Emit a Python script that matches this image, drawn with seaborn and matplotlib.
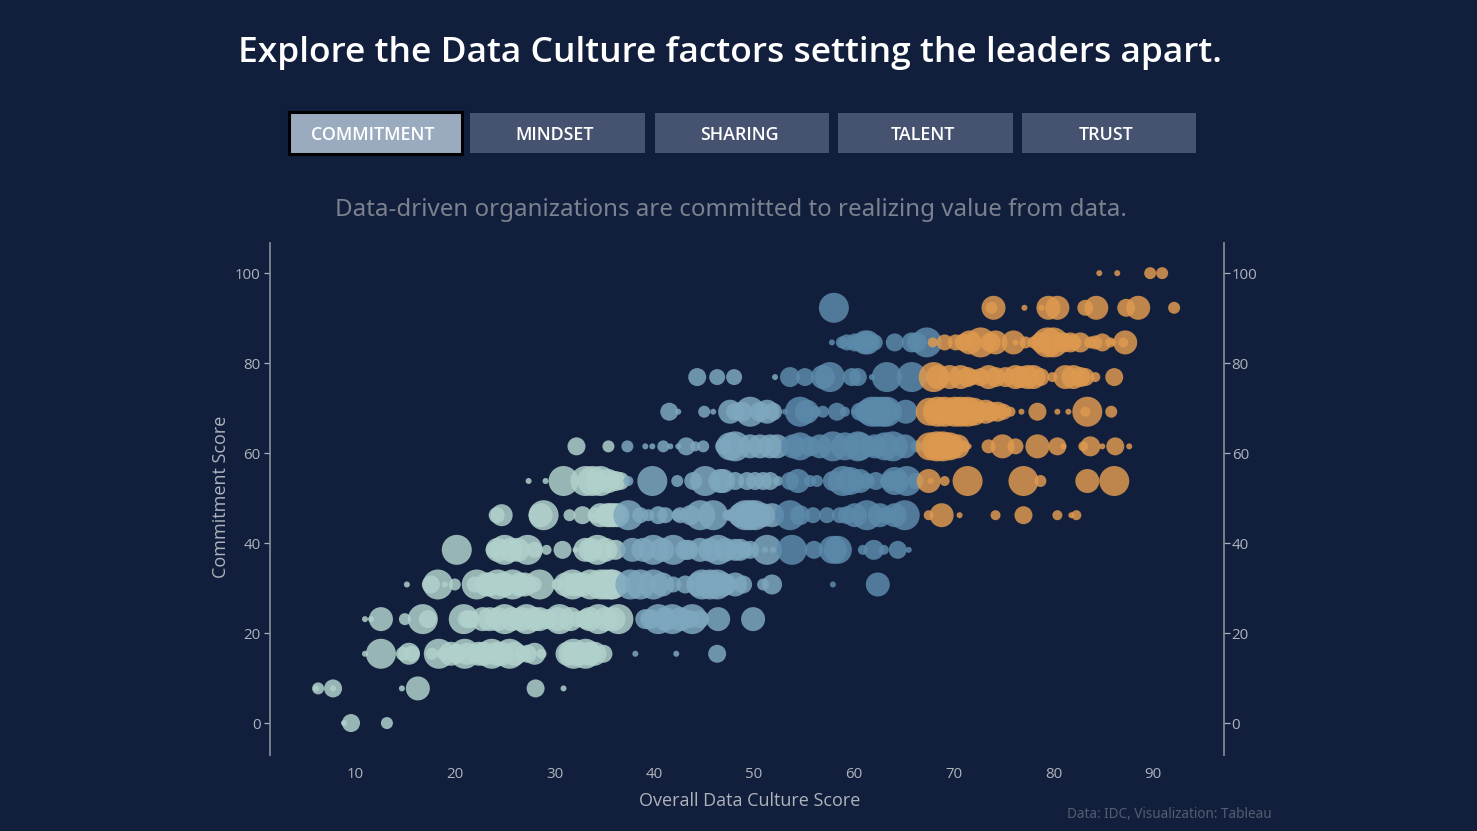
import numpy as np
import pandas as pd
import seaborn as sns
import matplotlib.pyplot as plt
from matplotlib.patches import Rectangle

BG = "#121f3c"

# commitment score is one of 14 levels, each row holds overall score + respondent weight
levels = [0, 7.7, 15.4, 23.1, 30.8, 38.5, 46.2, 53.8, 61.5, 69.2, 76.9, 84.6, 92.3, 100]

row_00_x = [8.9, 9.6, 13.2]
row_00_n = [9, 81, 36]
row_08_x = [6.3, 6.1, 7.8, 7.8, 14.7, 16.3, 28.1, 30.9]
row_08_n = [36, 9, 81, 9, 9, 144, 81, 9]
row_15_x = [11.0, 12.6, 14.8, 15.4, 17.7, 18.4, 18.8, 21.0, 21.2, 23.7, 24.7, 25.5, 26.8, 28.0, 28.7, 31.9, 32.8, 33.1, 34.9, 38.1, 42.2, 46.3,
            15.7, 19.6, 20.2, 22.4, 22.9, 24.2, 26.0, 27.3, 31.3, 32.0, 33.5, 34.0]
row_15_n = [9, 225, 49, 121, 36, 225, 36, 225, 121, 225, 144, 225, 64, 121, 25, 225, 121, 225, 81, 9, 9, 81,
            64, 144, 100, 144, 144, 144, 144, 81, 144, 144, 144, 144]
row_23_x = [11.0, 11.6, 12.6, 15.0, 16.8, 17.3, 20.9, 21.2, 22.8, 23.8, 25.0, 26.2, 27.2, 28.5, 30.3, 30.5, 32.3, 33.5, 34.4, 35.9, 36.4, 39.6, 40.4, 41.8, 43.6, 43.8, 46.4, 49.9,
            21.5, 23.5, 24.3, 25.7, 26.7, 28.0, 29.3, 31.6, 33.1, 35.1, 39.1, 41.1, 42.6, 44.6]
row_23_n = [9, 9, 144, 36, 225, 81, 225, 81, 144, 64, 225, 100, 225, 144, 144, 225, 64, 144, 225, 144, 225, 100, 225, 225, 81, 225, 144, 144,
            81, 144, 144, 144, 144, 144, 100, 144, 100, 144, 100, 144, 144, 81]
row_31_x = [15.2, 18.3, 17.6, 19.0, 20.0, 22.2, 22.0, 23.2, 24.3, 25.8, 24.8, 28.5, 27.9, 30.3, 31.8, 32.8, 34.6, 35.6, 36.6, 37.6, 39.9, 41.9, 45.6, 46.3, 46.9, 47.3, 48.9, 50.9, 51.8, 57.9, 62.4,
            23.5, 25.0, 26.5, 27.0, 31.1, 32.1, 33.6, 35.1, 35.8, 38.6, 40.8, 43.1, 44.4, 44.8, 48.1]
row_31_n = [9, 225, 81, 9, 36, 225, 64, 144, 225, 225, 144, 225, 64, 36, 225, 144, 225, 225, 100, 225, 225, 64, 225, 225, 144, 100, 81, 36, 100, 9, 144,
            144, 144, 144, 144, 144, 144, 225, 225, 225, 225, 144, 81, 144, 225, 144]
row_38_x = [20.2, 23.9, 25.0, 26.3, 27.3, 29.2, 30.8, 32.1, 33.6, 34.3, 36.1, 37.8, 39.9, 41.9, 43.4, 46.4, 48.6, 49.6, 51.3, 51.1, 51.9, 53.8, 56.0, 57.9, 58.4, 60.9, 62.0, 63.0, 64.4, 65.5,
            24.3, 25.6, 28.0, 33.1, 35.1, 38.9, 40.8, 43.1, 44.6, 45.6, 47.1, 48.1, 49.1]
row_38_n = [225, 64, 225, 144, 225, 25, 81, 9, 144, 225, 100, 144, 225, 225, 100, 225, 121, 81, 225, 9, 9, 225, 81, 196, 196, 25, 100, 25, 81, 9,
            144, 144, 64, 144, 144, 144, 144, 100, 144, 144, 144, 121, 64]
row_46_x = [24.2, 24.7, 28.6, 28.9, 31.5, 32.8, 33.8, 35.1, 35.3, 35.9, 36.3, 37.4, 39.4, 40.4, 42.3, 44.6, 45.9, 47.3, 48.6, 49.6, 50.9, 53.6, 55.9, 57.3, 59.3, 61.3, 63.0, 65.1, 67.5, 68.8, 70.6, 74.2, 77.0, 80.4, 81.8, 82.3,
            34.1, 34.6, 35.6, 38.6, 41.1, 42.6, 43.6, 47.6, 49.1, 50.1, 51.8, 54.6, 58.6, 60.1, 62.6, 63.6, 64.1]
row_46_n = [64, 121, 144, 225, 36, 81, 9, 100, 144, 144, 144, 225, 36, 81, 36, 225, 225, 25, 144, 225, 144, 225, 64, 64, 81, 225, 64, 225, 25, 144, 9, 25, 81, 25, 9, 25,
            64, 144, 144, 64, 64, 64, 100, 36, 225, 225, 144, 100, 64, 144, 144, 64, 144]
row_54_x = [27.4, 29.1, 30.9, 33.8, 34.6, 35.4, 36.6, 37.4, 39.8, 42.3, 43.9, 45.1, 46.9, 49.3, 50.9, 52.4, 54.4, 56.3, 57.9, 58.9, 61.3, 63.1, 64.3, 65.3, 67.5, 67.7, 69.1, 71.4, 77.0, 78.7, 83.4, 86.1,
            33.1, 36.1, 46.6, 48.1, 50.1, 51.6, 53.6, 55.6, 60.6, 59.6, 62.2, 66.2, 64.1, 63.7]
row_54_n = [9, 9, 225, 225, 225, 144, 81, 25, 225, 36, 81, 225, 144, 81, 81, 25, 144, 36, 100, 225, 64, 25, 100, 225, 144, 9, 25, 225, 225, 36, 144, 225,
            225, 100, 144, 81, 81, 81, 81, 36, 144, 196, 81, 64, 196, 100]
row_62_x = [32.2, 35.4, 37.3, 39.1, 39.8, 40.9, 41.6, 42.4, 43.2, 44.1, 44.9, 46.9, 48.1, 50.6, 52.3, 53.9, 55.6, 57.9, 60.4, 61.6, 63.9, 66.3, 68.3, 67.6, 69.6, 71.0, 71.5, 73.5, 74.9, 76.2, 78.4, 80.4, 81.0, 83.0, 83.7, 84.9, 86.2, 87.6,
            47.6, 49.6, 51.6, 54.6, 56.6, 59.1, 60.6, 62.1, 63.1, 65.1, 68.9, 69.6, 70.4]
row_62_n = [81, 36, 36, 9, 9, 36, 9, 9, 81, 25, 36, 64, 225, 144, 144, 144, 100, 225, 225, 100, 225, 36, 225, 196, 144, 36, 9, 49, 144, 64, 144, 81, 9, 25, 100, 9, 81, 9,
            196, 144, 144, 196, 144, 196, 196, 144, 196, 144, 225, 196, 144]
row_69_x = [41.5, 42.4, 45.0, 45.9, 48.1, 48.8, 49.6, 51.3, 51.9, 53.1, 54.6, 55.3, 56.9, 58.3, 59.1, 60.1, 61.3, 61.8, 62.3, 62.9, 63.3, 65.2, 68.0, 69.4, 70.7, 71.4, 72.5, 74.4, 75.7, 76.8, 78.4, 80.4, 81.5, 83.4, 83.2, 85.8,
            47.6, 50.6, 56.1, 60.6, 67.6, 68.4, 69.1, 70.1, 72.0, 73.2, 73.7, 75.0]
row_69_n = [81, 9, 36, 9, 81, 100, 225, 144, 81, 9, 225, 144, 36, 81, 25, 9, 144, 225, 225, 225, 225, 144, 81, 144, 225, 225, 100, 100, 25, 9, 81, 9, 9, 225, 25, 36,
            144, 100, 36, 81, 196, 225, 225, 225, 196, 144, 100, 64]
row_77_x = [44.3, 46.3, 48.0, 52.1, 53.6, 55.1, 56.9, 57.6, 59.8, 60.4, 61.8, 63.3, 65.8, 68.0, 68.4, 70.7, 71.9, 73.5, 75.2, 77.4, 78.0, 79.9, 82.0, 82.7, 84.2, 86.1,
            69.6, 71.4, 72.7, 74.2, 76.2, 76.7, 78.7, 81.2, 83.2]
row_77_n = [81, 64, 64, 9, 100, 81, 144, 225, 81, 81, 9, 225, 225, 225, 144, 144, 64, 144, 100, 144, 144, 25, 144, 100, 25, 81,
            144, 100, 81, 100, 144, 121, 81, 144, 81]
row_85_x = [57.8, 58.8, 59.3, 60.6, 61.4, 62.1, 64.1, 66.3, 67.3, 67.9, 69.1, 71.0, 72.7, 74.2, 76.0, 76.2, 78.0, 79.4, 80.0, 81.0, 82.7, 83.7, 84.9, 86.0, 87.2, 87.0,
            60.1, 61.1, 65.8, 70.2, 71.6, 73.7, 77.2, 78.7, 81.7, 82.0, 84.2, 85.7]
row_85_n = [9, 36, 64, 81, 144, 64, 81, 100, 225, 25, 64, 81, 225, 144, 144, 9, 36, 225, 225, 100, 100, 36, 81, 9, 144, 25,
            81, 144, 100, 64, 144, 100, 36, 100, 100, 64, 49, 25]
row_92_x = [58.0, 74.0, 73.8, 77.1, 78.8, 79.5, 80.4, 83.2, 84.3, 87.3, 88.5, 92.1]
row_92_n = [225, 144, 36, 9, 9, 144, 144, 64, 144, 81, 144, 36]
row_100_x = [84.6, 86.4, 89.7, 90.9]
row_100_n = [9, 9, 36, 36]

all_x = [row_00_x, row_08_x, row_15_x, row_23_x, row_31_x, row_38_x, row_46_x, row_54_x, row_62_x, row_69_x, row_77_x, row_85_x, row_92_x, row_100_x]
all_n = [row_00_n, row_08_n, row_15_n, row_23_n, row_31_n, row_38_n, row_46_n, row_54_n, row_62_n, row_69_n, row_77_n, row_85_n, row_92_n, row_100_n]

buttons = ["COMMITMENT", "MINDSET", "SHARING", "TALENT", "TRUST"]
ticks_x = [10, 20, 30, 40, 50, 60, 70, 80, 90]
ticks_y = [0, 20, 40, 60, 80, 100]

band_edges = [0, 37, 52.5, 67.4, 100]
band_names = ["a", "b", "c", "d"]
band_colors = {"a": "#b1d1cc", "b": "#7ea8bf", "c": "#5c8aab", "d": "#dd994f"}

frames = []
for level, xs, ns in zip(levels, all_x, all_n):
    frames.append(pd.DataFrame({"overall": xs, "commitment": level, "n": ns}))
df = pd.concat(frames, ignore_index=True)
df["band"] = pd.cut(df["overall"], band_edges, labels=band_names).astype(str)
df = df.sort_values(["band", "overall"], kind="stable")

sns.set_theme(style="white")
plt.rcParams["font.family"] = ["Open Sans", "DejaVu Sans"]

W, H = 1477, 831
fig = plt.figure(figsize=(W / 100, H / 100), dpi=100, facecolor=BG)
ax = fig.add_axes([270 / W, 1 - 755 / H, (1224 - 270) / W, (755 - 243) / H], facecolor=BG)

sns.scatterplot(data=df, x="overall", y="commitment", hue="band", palette=band_colors,
                size="n", sizes=(18.7, 466), size_norm=(9, 225), alpha=0.85,
                linewidth=0, legend=False, ax=ax, clip_on=False)

ax.set_xlim(1.48, 97.1)
ax.set_ylim(-7.1, 106.7)
ax.set_xticks(ticks_x)
ax.set_yticks(ticks_y)
ax.tick_params(axis="x", colors="#aeb3bc", labelsize=10.8, length=4.3, width=0.9, pad=4.5)
ax.tick_params(axis="y", colors="#aeb3bc", labelsize=10.8, length=4.3, width=0.9, pad=2.3)
ax.set_xlabel("Overall Data Culture Score", color="#aeb3bc", fontsize=13, labelpad=7)
ax.set_ylabel("Commitment Score", color="#aeb3bc", fontsize=13, labelpad=3.5)
ax.xaxis.label.set_x(0.5026)
ax.yaxis.label.set_y(0.504)

# right hand axis sits closer to its labels than the left one
ax2 = ax.twinx()
ax2.set_ylim(ax.get_ylim())
ax2.set_yticks(ticks_y)
ax2.tick_params(axis="y", colors="#aeb3bc", labelsize=10.8, length=4.3, width=0.9, pad=1.2)
ax2.grid(False)
ax.grid(False)

for a in [ax, ax2]:
    for s in ["top", "bottom"]:
        a.spines[s].set_visible(False)
ax.spines["right"].set_visible(False)
ax2.spines["left"].set_visible(False)
ax.spines["left"].set_color("#858b98")
ax2.spines["right"].set_color("#858b98")


def box(x0, y0, x1, y1, face, edge="none", lw=0):
    fig.add_artist(Rectangle((x0 / W, 1 - y1 / H), (x1 - x0) / W, (y1 - y0) / H,
                             transform=fig.transFigure, facecolor=face, edgecolor=edge, linewidth=lw))


fig.text(730 / W, 1 - 53 / H, "Explore the Data Culture factors setting the leaders apart.",
         color="white", fontsize=25.5, fontweight="semibold", ha="center", va="center", family="Open Sans")
spans = [(289, 462), (470, 645), (655, 829), (838, 1013), (1022, 1196)]
for i, (label, (a, b)) in enumerate(zip(buttons, spans)):
    if i == 0:
        box(a, 112, b, 154, "#9aabc0", "black", 2.2)
    else:
        box(a, 113, b, 153, "#465370")
    fig.text(((a + b) / 2 - 3) / W, 1 - 135 / H, label, color="white", fontsize=12.9,
             fontweight="semibold", ha="center", va="center")
fig.text(731 / W, 1 - 210 / H, "Data-driven organizations are committed to realizing value from data.",
         color="#7b818e", fontsize=17.3, ha="center", va="center", family="Noto Sans")
fig.text(1272 / W, 1 - 815 / H, "Data: IDC, Visualization: Tableau", color="#535d70",
         fontsize=9.75, ha="right", va="center", family="Noto Sans")

fig.savefig("out.png", dpi=100, facecolor=BG)
